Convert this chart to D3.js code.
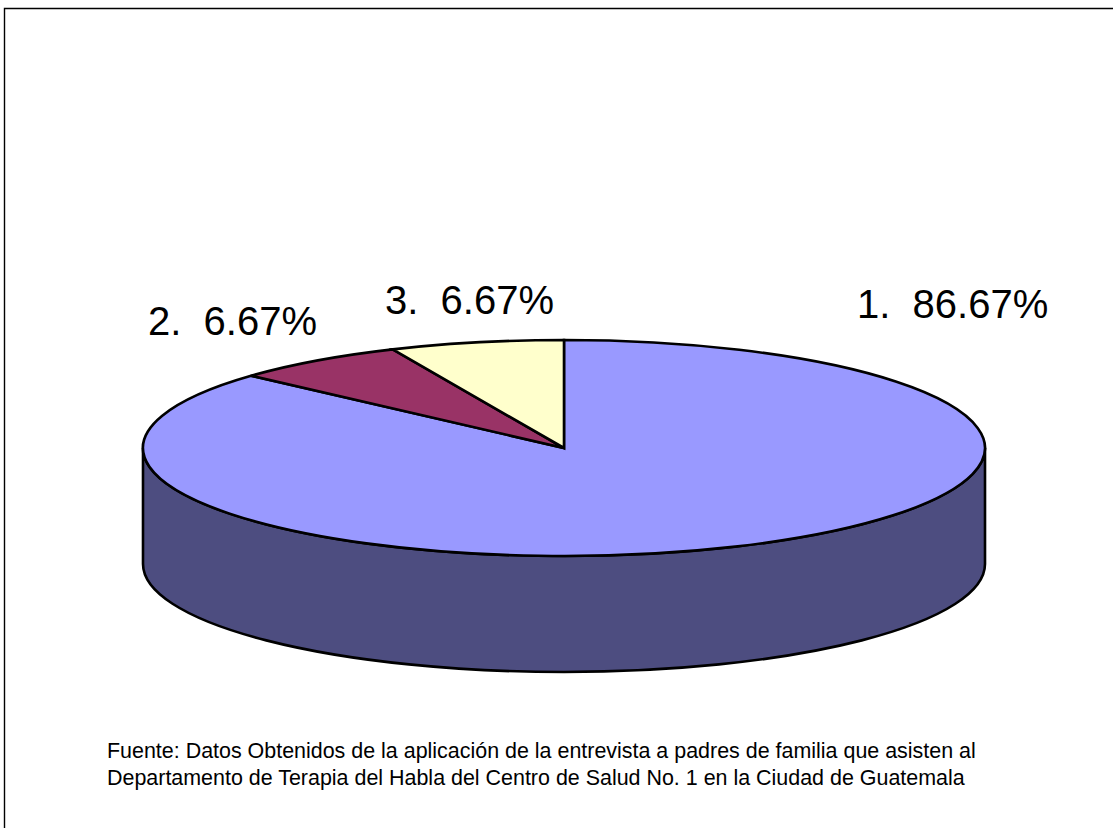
<!DOCTYPE html>
<html>
<head>
<meta charset="utf-8">
<script src="https://cdn.jsdelivr.net/npm/d3@7"></script>
<style>
  html, body { margin: 0; padding: 0; background: #fff; }
  svg { display: block; }
  text { font-family: "Liberation Sans", Arial, sans-serif; fill: #000; white-space: pre; }
</style>
</head>
<body>
<div class="chart"></div>
<script>
const width = 1113, height = 828;

const categories = ['1', '2', '3'];
const values = [86.67, 6.67, 6.67];
const sliceColors = ['#9999ff', '#993366', '#ffffcc'];
const sourceLines = [
    'Fuente: Datos Obtenidos de la aplicación de la entrevista a padres de familia que asisten al',
    'Departamento de Terapia del Habla del Centro de Salud No. 1 en la Ciudad de Guatemala'
];

const cx = 564, cy = 448, rx = 421, ry = 108, depth = 116;

const svg = d3.select('.chart')
    .append('svg')
    .attr('width', width)
    .attr('height', height);

// frame: open on the right and at the bottom
svg.append('path')
    .attr('d', `M4.5,${height}V8.5H${width}`)
    .attr('fill', 'none')
    .attr('stroke', '#000')
    .attr('stroke-width', 1.4);

// side wall of the disc
svg.append('path')
    .attr('d', `M${cx - rx},${cy}A${rx},${ry} 0 0 0 ${cx + rx},${cy}V${cy + depth}A${rx},${ry} 0 0 1 ${cx - rx},${cy + depth}Z`)
    .attr('fill', '#4d4d80')
    .attr('stroke', '#000')
    .attr('stroke-width', 2.6);

const pie = d3.pie().sort(null).value(d => d.value);
const arc = d3.arc().innerRadius(0).outerRadius(rx);
const slices = pie(categories.map((c, i) => ({ category: c, value: values[i] })));

// top face: a flat pie squashed into an ellipse
svg.append('g')
    .attr('transform', `translate(${cx},${cy}) scale(1,${ry / rx})`)
    .selectAll('path')
    .data(slices)
    .join('path')
    .attr('d', arc)
    .attr('fill', (d, i) => sliceColors[i])
    .attr('stroke', '#000')
    .attr('stroke-width', 2.6)
    .attr('stroke-linejoin', 'miter')
    .attr('vector-effect', 'non-scaling-stroke');

const labelPos = [[857, 318], [148, 335], [385, 314]];

svg.append('g')
    .selectAll('text')
    .data(slices)
    .join('text')
    .attr('x', (d, i) => labelPos[i][0])
    .attr('y', (d, i) => labelPos[i][1])
    .attr('font-size', 40)
    .text(d => `${d.data.category}.  ${d.data.value.toFixed(2)}%`);

svg.append('g')
    .selectAll('text')
    .data(sourceLines)
    .join('text')
    .attr('x', 107)
    .attr('y', (d, i) => 758 + i * 27)
    .attr('font-size', 21.45)
    .text(d => d);
</script>
</body>
</html>
